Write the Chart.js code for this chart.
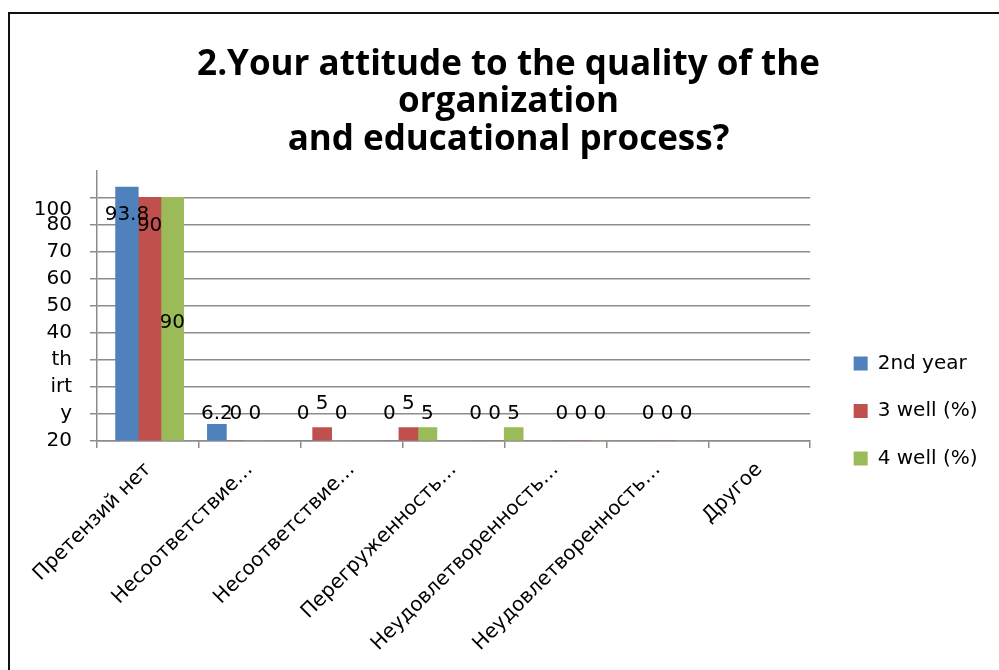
<!DOCTYPE html>
<html>
<head>
<meta charset="utf-8">
<script src="https://cdn.jsdelivr.net/npm/chart.js@4/dist/chart.umd.min.js"></script>
<style>
    html, body { margin: 0; padding: 0; background: #fff; overflow: hidden; }
    #wrap  { position: absolute; left: 0; top: 0; width: 999px; height: 670px; }
    #frame { position: absolute; left: 8px; top: 12px; width: 1200px; height: 900px;
             border: 2px solid #111; pointer-events: none; }
</style>
</head>
<body>
<div id="wrap"><canvas id="chartCanvasId"></canvas></div>
<div id="frame"></div>
<script>
"use strict";

// chart values
const categories  = ["Претензий нет", "Несоответствие…", "Несоответствие…", "Перегруженность…",
                     "Неудовлетворенность…", "Неудовлетворенность…", "Другое"]
const seriesNames = ["2nd year", "3 well (%)", "4 well (%)"]
const secondYear  = [93.8, 6.2, 0, 0, 0, 0, 0]
const thirdWell   = [90,   0,   5, 5, 0, 0, 0]
const fourthWell  = [90,   0,   0, 5, 5, 0, 0]
const yTickLabels = ["20", "y", "irt", "th", "40", "50", "60", "70", "80", "100"]
const titleLines  = ["2.Your attitude to the quality of the", "organization", "and educational process?"]

const colors   = ['#4F81BD', '#C0504D', '#9BBB59']
const gridGray = '#8c8c8c'
const series   = [secondYear, thirdWell, fourthWell]

Chart.defaults.font.family = "'DejaVu Sans', sans-serif"
Chart.defaults.color = '#000'

// bars go on a hidden linear axis (category number 1..7) that is spaced a bit
// tighter than the labelled category axis, as in the picture; the first group
// is wider than the small bars
let datasets = []
series.forEach(function (values, s) {
    datasets.push({
        label: seriesNames[s],
        data: [{ x: 1, y: values[0] }],
        backgroundColor: colors[s],
        xAxisID: 'x2',
        stack: 'g' + s,
        barThickness: 22.7,
        labelPlace: s === 2 ? 'center' : 'inside'
    })
})
series.forEach(function (values, s) {
    datasets.push({
        label: seriesNames[s],
        data: values.slice(1).map((v, i) => ({ x: i + 2, y: v })),
        backgroundColor: colors[s],
        xAxisID: 'x2',
        stack: 'g' + s,
        barThickness: 19,
        labelPlace: s === 1 ? 'above' : 'row'
    })
})

// value labels, drawn right after each dataset's bars
const valueLabels = {
    id: 'valueLabels',
    afterDatasetDraw(chart, args) {
        const ctx  = chart.ctx
        const ds   = chart.data.datasets[args.index]
        const base = chart.scales.y.getPixelForValue(0)
        ctx.save()
        ctx.font = "20px 'DejaVu Sans'"
        ctx.fillStyle = '#000'
        ctx.textAlign = 'center'
        ctx.textBaseline = 'middle'
        args.meta.data.forEach(function (bar, i) {
            const v = ds.data[i].y
            let y
            if (ds.labelPlace === 'center')      y = (bar.y + base) / 2 + 4
            else if (ds.labelPlace === 'inside') y = bar.y + 28
            else if (ds.labelPlace === 'above')  y = Math.min(bar.y - 24, base - 27)
            else                                 y = base - 27
            ctx.fillText(String(v), bar.x, y)
        })
        ctx.restore()
    }
}

const chartCanvas  = document.getElementById('chartCanvasId')
const chartContext = chartCanvas.getContext('2d')

const myChart = new Chart(chartContext, {
    type: 'bar',
    data: {
        labels: categories,
        datasets: datasets
    },
    options: {
        responsive: true,
        maintainAspectRatio: false,
        animation: false,
        layout: { padding: { left: 32, right: 14, top: 0, bottom: 0 } },
        plugins: {
            title: {
                display: true,
                text: titleLines,
                color: '#000',
                font: { family: 'Open Sans', size: 35, weight: 'bold', lineHeight: 1.07 },
                padding: { top: 46, bottom: 12 }
            },
            legend: {
                position: 'right',
                align: 'center',
                title: { display: true, text: ' ', padding: { top: 128, bottom: 0 }, font: { size: 20 } },
                labels: {
                    boxWidth: 14,
                    boxHeight: 14,
                    padding: 27.5,
                    color: '#000',
                    font: { size: 20 },
                    filter: item => item.datasetIndex < 3
                }
            },
            tooltip: { enabled: false }
        },
        scales: {
            x: {
                type: 'category',
                grid: { drawOnChartArea: false, color: gridGray, lineWidth: 1.5, tickLength: 7, offset: true },
                border: { color: gridGray, width: 1.5 },
                ticks: { minRotation: 45, maxRotation: 45, autoSkip: false, padding: 10, font: { size: 20 } },
                afterFit: s => { s.height = 229 }
            },
            x2: {
                type: 'linear',
                stacked: true,
                offset: false,
                display: false,
                min: 0.39,
                max: 8.657
            },
            y: {
                min: 0,
                max: 100,
                stacked: false,
                grid: {
                    color: c => (c.tick && c.tick.value === 100) ? 'transparent' : gridGray,
                    lineWidth: 1.5,
                    tickLength: 7
                },
                border: { color: gridGray, width: 1.5 },
                ticks: {
                    stepSize: 10,
                    autoSkip: false,
                    padding: 18,
                    font: { size: 20 },
                    callback: function (value) {
                        const label = yTickLabels[Math.round(value / 10)]
                        if (label === undefined) return ''
                        return value === 90 ? ['', label] : label
                    }
                },
                afterFit: s => { s.width = 65 }
            },
            gap: {
                position: 'right',
                grid: { display: false },
                border: { display: false },
                ticks: { display: false },
                afterFit: s => { s.width = 16 }
            }
        }
    },
    plugins: [valueLabels]
})
</script>
</body>
</html>
